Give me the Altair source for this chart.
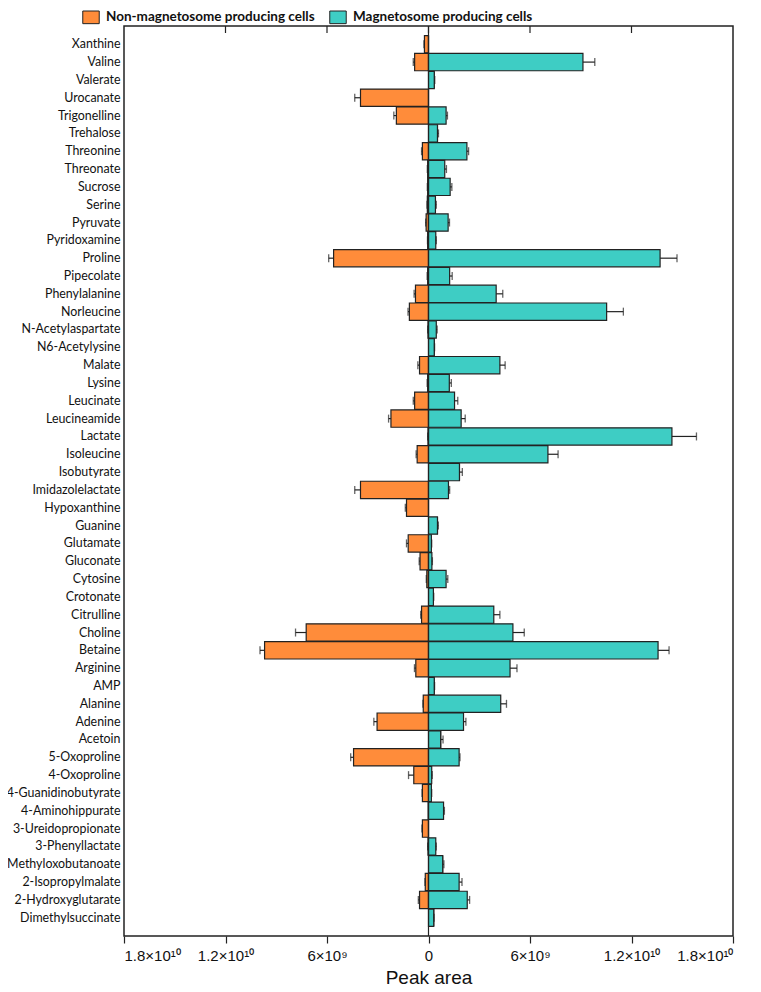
import altair as alt
import pandas as pd

categories = ["Xanthine", "Valine", "Valerate", "Urocanate", "Trigonelline", "Trehalose",
              "Threonine", "Threonate", "Sucrose", "Serine", "Pyruvate", "Pyridoxamine",
              "Proline", "Pipecolate", "Phenylalanine", "Norleucine", "N-Acetylaspartate",
              "N6-Acetylysine", "Malate", "Lysine", "Leucinate", "Leucineamide", "Lactate",
              "Isoleucine", "Isobutyrate", "Imidazolelactate", "Hypoxanthine", "Guanine",
              "Glutamate", "Gluconate", "Cytosine", "Crotonate", "Citrulline", "Choline",
              "Betaine", "Arginine", "AMP", "Alanine", "Adenine", "Acetoin", "5-Oxoproline",
              "4-Oxoproline", "4-Guanidinobutyrate", "4-Aminohippurate", "3-Ureidopropionate",
              "3-Phenyllactate", "Methyloxobutanoate", "2-Isopropylmalate",
              "2-Hydroxyglutarate", "Dimethylsuccinate"]

# peak area, units of 1e9
non_mag = [0.24, 0.82, 0, 4.02, 1.9, 0, 0.36, 0.05, 0.05, 0.07, 0.14, 0.05, 5.61, 0.05, 0.77,
           1.13, 0.03, 0, 0.53, 0.05, 0.82, 2.22, 0.03, 0.67, 0, 4.02, 1.3, 0, 1.2, 0.5, 0.1,
           0, 0.41, 7.23, 9.69, 0.75, 0, 0.31, 3.04, 0, 4.43, 0.87, 0.36, 0.02, 0.36, 0.03, 0,
           0.19, 0.53, 0]
non_mag_err = [0.03, 0.08, 0, 0.34, 0.15, 0, 0.05, 0.02, 0.02, 0.02, 0.03, 0.01, 0.29, 0.03,
               0.08, 0.08, 0.02, 0, 0.1, 0.03, 0.08, 0.14, 0.02, 0.06, 0, 0.34, 0.07, 0, 0.1,
               0.05, 0.03, 0, 0.05, 0.63, 0.27, 0.08, 0, 0.02, 0.19, 0, 0.17, 0.31, 0.02, 0,
               0.03, 0.02, 0, 0.02, 0.07, 0]
mag = [0, 9.13, 0.34, 0, 1.04, 0.53, 2.27, 0.96, 1.28, 0.41, 1.16, 0.43, 13.69, 1.25, 4.0,
       10.53, 0.46, 0.34, 4.22, 1.23, 1.54, 1.93, 14.39, 7.06, 1.83, 1.18, 0, 0.53, 0.17, 0.2,
       1.04, 0.29, 3.86, 4.99, 13.57, 4.82, 0.34, 4.27, 2.07, 0.72, 1.81, 0.19, 0.17, 0.89, 0,
       0.43, 0.84, 1.81, 2.29, 0.31]
mag_err = [0, 0.7, 0.03, 0, 0.08, 0.06, 0.1, 0.1, 0.1, 0.05, 0.08, 0.03, 1.0, 0.15, 0.39, 0.99,
           0.05, 0.02, 0.31, 0.12, 0.19, 0.24, 1.45, 0.6, 0.17, 0.07, 0, 0.05, 0.02, 0.03, 0.1,
           0.02, 0.36, 0.67, 0.65, 0.41, 0.02, 0.34, 0.14, 0.14, 0.05, 0.03, 0.02, 0.05, 0,
           0.03, 0.07, 0.17, 0.14, 0.02]

groups = ["Non-magnetosome producing cells", "Magnetosome producing cells"]
colors = ["#FF8C3A", "#3ECDC4"]
tick_values = [-1.8e10, -1.2e10, -6e9, 0, 6e9, 1.2e10, 1.8e10]

rows = []
for i, c in enumerate(categories):
    v, e = non_mag[i] * 1e9, non_mag_err[i] * 1e9
    rows.append({"cat": c, "group": groups[0], "val": -v, "err": e, "end": -v - e})
    v, e = mag[i] * 1e9, mag_err[i] * 1e9
    rows.append({"cat": c, "group": groups[1], "val": v, "err": e, "end": v + e})
df = pd.DataFrame(rows)
ticks_df = pd.DataFrame({"v": tick_values[1:-1]})

label_expr = ("abs(datum.value) > 1.7e10 ? '1.8×10¹⁰' : abs(datum.value) > 1.1e10 ? '1.2×10¹⁰' : "
              "abs(datum.value) > 5e9 ? '6×10⁹' : '0'")

xscale = alt.Scale(domain=[-1.8e10, 1.8e10], nice=False, zero=False)
yenc = alt.Y("cat:N", sort=categories, title=None,
             scale=alt.Scale(paddingInner=0.03, paddingOuter=0.54),
             axis=alt.Axis(ticks=False, domain=False, labelFont="Lato", labelFontSize=12.4,
                           labelColor="#111", labelPadding=4, labelLimit=200))

base = alt.Chart(df)

bars = base.mark_bar(stroke="#222", strokeWidth=1.2).encode(
    x=alt.X("val:Q", scale=xscale, title="Peak area",
            axis=alt.Axis(values=tick_values, labelExpr=label_expr, grid=False, domain=False,
                          tickColor="#222", tickSize=7, tickWidth=1.2, labelFont="Liberation Sans",
                          labelFontSize=15, labelColor="#111", labelPadding=5,
                          titleFont="Liberation Sans", titleFontSize=19, titleFontWeight="normal",
                          titleColor="#111", titlePadding=5)),
    y=yenc,
    color=alt.Color("group:N", scale=alt.Scale(domain=groups, range=colors),
                    legend=alt.Legend(title=None, orient="none", direction="horizontal",
                                      legendX=-40, legendY=-16, symbolType="M-1.3,-1L1.3,-1L1.3,1L-1.3,1Z",
                                      symbolSize=160, symbolStrokeColor="#222", symbolStrokeWidth=1,
                                      labelFont="Lato", labelFontSize=13.5, labelFontWeight="bold",
                                      labelColor="#111", columnPadding=12, labelOffset=8,
                                      labelLimit=400, padding=0)),
)

ebase = base.transform_filter("datum.err > 0")
err_rule = ebase.mark_rule(color="#222", strokeWidth=1.2).encode(
    x=alt.X("val:Q", scale=xscale), x2="end:Q", y=alt.Y("cat:N", sort=categories))
err_cap = ebase.mark_tick(color="#222", thickness=1.3, size=8).encode(
    x=alt.X("end:Q", scale=xscale), y=alt.Y("cat:N", sort=categories))

zero = alt.Chart(pd.DataFrame({"z": [0]})).mark_rule(color="#222", strokeWidth=1.2).encode(
    x=alt.X("z:Q", scale=xscale))
top_ticks = alt.Chart(ticks_df).mark_rule(color="#222", strokeWidth=1.2).encode(
    x=alt.X("v:Q", scale=xscale), y=alt.value(0), y2=alt.value(7))

chart = alt.layer(bars, err_rule, err_cap, zero, top_ticks).properties(
    width=609, height=910,
    autosize=alt.AutoSizeParams(type="none"),
    padding={"left": 116, "top": 18, "right": 20, "bottom": 62},
).configure_view(stroke="#222", strokeWidth=1.5)

chart.save("out.html", embed_options={"renderer": "svg", "actions": False})
